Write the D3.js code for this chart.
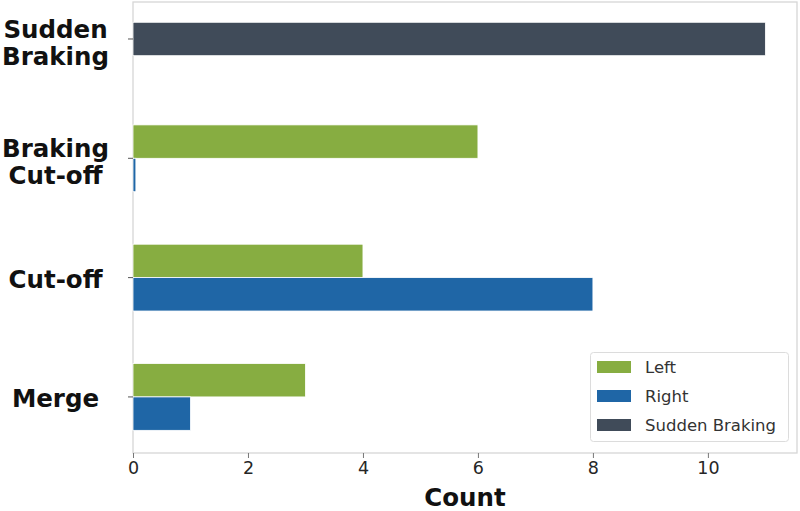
<!DOCTYPE html>
<html>
<head>
<meta charset="utf-8">
<script src="https://cdn.jsdelivr.net/npm/d3@7"></script>
<style>
html,body{margin:0;padding:0;background:#fff;}
svg{display:block;}
</style>
</head>
<body>
<svg id="chart" width="800" height="511"></svg>
<script>
// ---- data ----
const categories = ["Sudden\nBraking", "Braking\nCut-off", "Cut-off", "Merge"];
const leftValues = [null, 6, 4, 3];
const rightValues = [null, 0.05, 8, 1];
const suddenValues = [11, null, null, null];
const seriesNames = ["Left", "Right", "Sudden Braking"];
const seriesColors = ["#87ad41", "#1f66a6", "#404b59"];
const xTicks = [0, 2, 4, 6, 8, 10];
const xLabel = "Count";

// ---- layout ----
const svg = d3.select("#chart");
const L = 133, R = 797, T = 2, B = 453;

const x = d3.scaleLinear().domain([0, 11.55]).range([L, R]);
const y = d3.scaleLinear().domain([-0.31, 3.47]).range([T, B]);
const barH = y(0.28) - y(0);

// frame
svg.append("rect").attr("x", L).attr("y", T).attr("width", R - L).attr("height", B - T)
  .attr("fill", "none").attr("stroke", "#d6d6d6").attr("stroke-width", 1.3);

// bars
const g = svg.append("g");
function drawSeries(vals, color, offsetFn) {
  vals.forEach((v, i) => {
    if (v == null) return;
    g.append("rect")
      .attr("x", x(0))
      .attr("y", offsetFn(i))
      .attr("width", x(v) - x(0))
      .attr("height", barH)
      .attr("fill", color)
      .attr("stroke", "#fff").attr("stroke-width", 0.8);
  });
}
drawSeries(leftValues, seriesColors[0], i => y(i) - barH);
drawSeries(rightValues, seriesColors[1], i => y(i));
drawSeries(suddenValues, seriesColors[2], i => y(i) - barH / 2);

// x axis
const xAxis = d3.axisBottom(x).tickValues(xTicks).tickSize(5).tickPadding(4).tickFormat(d3.format("d"));
const xg = svg.append("g").attr("transform", `translate(0,${B})`).call(xAxis);
xg.select(".domain").remove();
xg.selectAll(".tick line").attr("stroke", "#777").attr("stroke-width", 1);
xg.selectAll(".tick text").attr("font-family", "DejaVu Sans").attr("font-size", 17.5)
  .attr("fill", "#262626");

// y ticks
const yg = svg.append("g");
categories.forEach((c, i) => {
  yg.append("line").attr("x1", L - 5).attr("x2", L).attr("y1", y(i)).attr("y2", y(i))
    .attr("stroke", "#555").attr("stroke-width", 1);
  const lines = c.split("\n");
  const t = yg.append("text").attr("x", 55.5).attr("text-anchor", "middle")
    .attr("font-family", "DejaVu Sans").attr("font-weight", "bold").attr("font-size", 24.5)
    .attr("fill", "#111");
  if (lines.length === 1) {
    t.append("tspan").attr("x", 55.5).attr("y", y(i) + 10).text(lines[0]);
  } else {
    t.append("tspan").attr("x", 55.5).attr("y", y(i) - 1).text(lines[0]);
    t.append("tspan").attr("x", 55.5).attr("y", y(i) + 26).text(lines[1]);
  }
});

// x label
svg.append("text").attr("x", (L + R) / 2).attr("y", 506).attr("text-anchor", "middle")
  .attr("font-family", "DejaVu Sans").attr("font-weight", "bold").attr("font-size", 24.5)
  .attr("fill", "#111").text(xLabel);

// legend
const lg = svg.append("g");
lg.append("rect").attr("x", 590.5).attr("y", 352.5).attr("width", 198).attr("height", 89)
  .attr("rx", 3).attr("fill", "#fff").attr("fill-opacity", 0.85)
  .attr("stroke", "#dcdcdc").attr("stroke-width", 1);
seriesNames.forEach((s, i) => {
  const cy = 367 + i * 29;
  lg.append("rect").attr("x", 597).attr("y", cy - 6).attr("width", 34).attr("height", 12)
    .attr("fill", seriesColors[i]);
  lg.append("text").attr("x", 645).attr("y", cy + 6).attr("font-family", "DejaVu Sans")
    .attr("font-size", 16.5).attr("fill", "#333").text(s);
});
</script>
</body>
</html>
